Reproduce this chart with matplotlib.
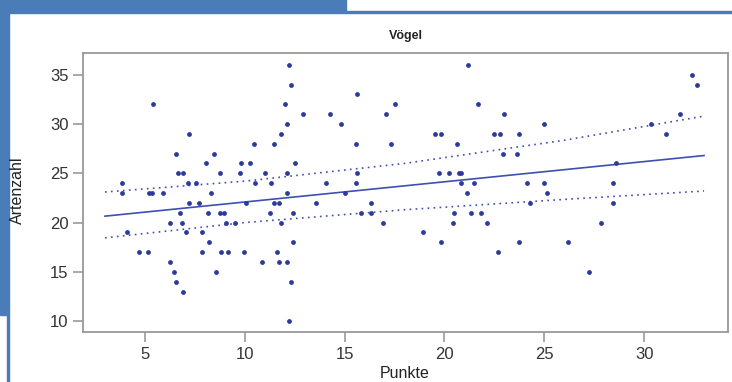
import numpy as np
import matplotlib.pyplot as plt
from matplotlib.patches import Rectangle

plt.rcParams['font.family'] = ['Liberation Sans', 'DejaVu Sans']

# Punkte (x) und Artenzahl (y)
punkte = [3.86, 3.86, 4.11, 4.68, 5.18, 5.23, 5.37, 5.43, 5.9, 6.24,
          6.24, 6.44, 6.54, 6.57, 6.65, 6.9, 6.74, 6.85, 6.9, 7.04,
          7.15, 7.54, 7.2, 7.2, 7.7, 7.85, 7.85, 8.04, 8.15, 8.2,
          8.3, 8.45, 8.54, 8.74, 8.74, 8.96, 8.82, 9.16, 9.04, 9.49,
          9.74, 9.82, 10.24, 9.96, 10.04, 10.46, 10.5, 10.86, 11.03, 11.24,
          11.32, 11.44, 11.44, 11.74, 11.62, 11.74, 11.83, 11.83, 12.02, 12.13,
          12.13, 12.13, 12.13, 12.24, 12.33, 12.33, 12.24, 12.44, 12.44, 12.53,
          12.94, 13.55, 14.08, 14.25, 14.81, 15.0, 15.55, 15.55, 15.6, 15.6,
          15.83, 16.33, 16.33, 16.92, 17.05, 17.33, 17.53, 18.92, 19.53, 19.83,
          19.72, 20.22, 19.83, 20.42, 20.5, 20.64, 20.72, 20.84, 20.84, 21.14,
          21.2, 21.34, 21.5, 21.7, 21.84, 22.14, 22.5, 22.8, 22.7, 22.93,
          23.0, 23.63, 23.73, 23.75, 24.13, 24.3, 25.0, 25.0, 25.13, 26.2,
          27.23, 27.82, 28.43, 28.43, 28.6, 30.32, 31.1, 31.82, 32.4, 32.63]
artenzahl = [24, 23, 19, 17, 17, 23, 23, 32, 23, 20,
             16, 15, 14, 27, 25, 25, 21, 20, 13, 19,
             24, 24, 29, 22, 22, 19, 17, 26, 21, 18,
             23, 27, 15, 25, 21, 21, 17, 17, 20, 20,
             25, 26, 26, 17, 22, 28, 24, 16, 25, 21,
             24, 28, 22, 22, 17, 16, 29, 20, 32, 30,
             25, 23, 16, 36, 34, 14, 10, 21, 18, 26,
             31, 22, 24, 31, 30, 23, 28, 24, 25, 33,
             21, 22, 21, 20, 31, 28, 32, 19, 29, 29,
             25, 25, 18, 20, 21, 28, 25, 25, 24, 23,
             36, 21, 24, 32, 21, 20, 29, 29, 17, 27,
             31, 27, 29, 18, 24, 22, 30, 24, 23, 18,
             15, 20, 24, 22, 26, 30, 29, 31, 35, 34]

# Regressionsgerade und Konfidenzband
fit_x = [3, 33]
fit_y = [20.65, 26.8]
band_x = [3, 10, 18, 26, 33]
band_upper = [23.1, 24.2, 26.0, 28.35, 30.8]
band_lower = [18.45, 20.0, 21.3, 22.35, 23.2]

W, H = 732, 382
fig = plt.figure(figsize=(W / 100, H / 100), dpi=100)
ax = fig.add_axes([83 / W, 1 - 332 / H, 645 / W, 279 / H])

blue = '#4a7db8'
fig.patches.append(Rectangle((0, 1 - 13 / H), 346 / W, 13 / H, transform=fig.transFigure, color=blue, zorder=0))
fig.patches.append(Rectangle((0, 1 - 315 / H), 9 / W, 315 / H, transform=fig.transFigure, color=blue, zorder=0))
fig.patches.append(Rectangle((6.7 / W, 0), 2.3 / W, 1 - 315 / H, transform=fig.transFigure, color=blue, zorder=0))
fig.patches.append(Rectangle((346 / W, 1 - 13 / H), 386 / W, 2 / H, transform=fig.transFigure, color=blue, zorder=0))

line_col = '#3e4fb0'
ax.scatter(punkte, artenzahl, s=12, color='#2c3a9c', zorder=3, linewidths=0)
ax.plot(fit_x, fit_y, color=line_col, lw=1.2)
ax.plot(band_x, band_upper, color=line_col, lw=1.2, linestyle=(0, (1, 2.6)))
ax.plot(band_x, band_lower, color=line_col, lw=1.2, linestyle=(0, (1, 2.6)))

ax.set_xlim(1.9, 34.2)
ax.set_ylim(8.9, 37.2)
ax.set_xticks([5, 10, 15, 20, 25, 30])
ax.set_yticks([10, 15, 20, 25, 30, 35])

for s in ax.spines.values():
    s.set_color('#999999')
    s.set_linewidth(1.3)
ax.tick_params(colors='#999999', labelcolor='#333333', labelsize=12, length=7, width=1.2)

ax.set_title('Vögel', fontsize=9, fontweight='bold', color='#222222', pad=10)
fig.text(17 / W, 1 - 190 / H, 'Artenzahl', rotation=90, ha='center', va='center',
         fontsize=11.5, color='#222222', zorder=5)
fig.text(405 / W, 1 - 381 / H, 'Punkte', ha='center', va='bottom',
         fontsize=11.5, color='#222222', zorder=5)

fig.savefig('out.png', dpi=100)
